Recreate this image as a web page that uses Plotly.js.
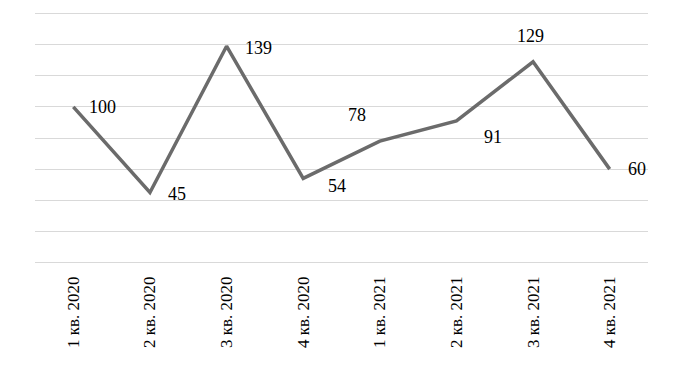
<!DOCTYPE html>
<html>
<head>
<meta charset="utf-8">
<script src="https://cdn.plot.ly/plotly-3.0.1.min.js"></script>
<style>html,body{margin:0;padding:0;background:#fff;}#chart{width:680px;height:368px;}</style>
</head>
<body>
<div id="chart"></div>
<script>
const categories = ["1 кв. 2020", "2 кв. 2020", "3 кв. 2020", "4 кв. 2020", "1 кв. 2021", "2 кв. 2021", "3 кв. 2021", "4 кв. 2021"];
const values = [100, 45, 139, 54, 78, 91, 129, 60];
const yTicks = [0, 20, 40, 60, 80, 100, 120, 140, 160];

// label placement per point: [xanchor, xshift, yshift]
const labelPlacement = [
  ["left", 14, 0],
  ["left", 16, -2],
  ["left", 16, -2],
  ["left", 23, -8],
  ["center", -23, 26],
  ["center", 37, -16],
  ["center", -3, 26],
  ["left", 16, 0]
];

const fontFamily = '"Liberation Serif", "Times New Roman", serif';

const annotations = values.map((v, i) => ({
  x: categories[i], y: v, xref: 'x', yref: 'y',
  text: String(v), showarrow: false,
  xanchor: labelPlacement[i][0], yanchor: 'middle',
  xshift: labelPlacement[i][1], yshift: labelPlacement[i][2],
  font: {family: fontFamily, size: 18, color: '#000'}
}));

const trace = {
  x: categories, y: values, type: 'scatter', mode: 'lines',
  line: {color: '#6b6b6b', width: 3.5},
  hoverinfo: 'none'
};

const layout = {
  width: 680, height: 368,
  margin: {l: 35, r: 32, t: 12, b: 104},
  paper_bgcolor: '#fff', plot_bgcolor: '#fff',
  showlegend: false,
  font: {family: fontFamily, size: 17, color: '#000'},
  xaxis: {
    type: 'category', range: [-0.5, categories.length - 0.5],
    tickangle: -90, showgrid: false, showline: false, zeroline: false,
    ticks: '', ticklabelstandoff: 8,
    tickfont: {family: fontFamily, size: 17, color: '#000'}, fixedrange: true
  },
  yaxis: {
    range: [-1, 161], tickvals: yTicks, showticklabels: false, showgrid: true,
    gridcolor: '#d9d9d9', gridwidth: 1, zeroline: false, showline: false, ticks: '', fixedrange: true
  },
  annotations: annotations
};

Plotly.newPlot('chart', [trace], layout, {displayModeBar: false, staticPlot: true});
</script>
</body>
</html>
